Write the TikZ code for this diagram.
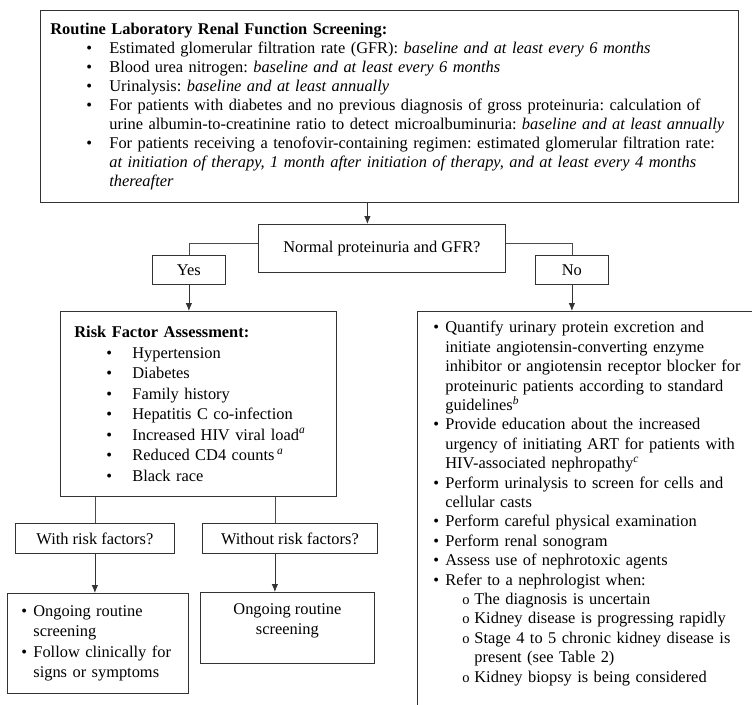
\documentclass[tikz,border=0pt]{standalone}
\usepackage{fontspec}
\setmainfont{Liberation Serif}
\usetikzlibrary{shapes,arrows,arrows.meta,positioning,calc}

\newcommand{\topbul}{\hspace*{36pt}\makebox[23pt][l]{\textbullet}}
\newcommand{\topind}{\hspace*{59pt}}
\newcommand{\riskbul}{\hspace*{32pt}\makebox[26pt][l]{\textbullet}}
\newcommand{\dotbul}{\makebox[12pt][l]{\textbullet}}
\newcommand{\dotind}{\hspace*{12pt}}
\newcommand{\circbul}{\hspace*{29pt}\makebox[12pt][l]{\fontsize{14.5}{14.5}\selectfont o}}
\newcommand{\circind}{\hspace*{41pt}}
\newcommand{\fnmark}[1]{\textsuperscript{\textit{#1}}}

\begin{document}
\frenchspacing
\begin{tikzpicture}[
    x=1pt, y=-1pt,
    font={\fontsize{16.4}{19}\selectfont},
    block/.style={rectangle, draw=black!80, line width=0.8pt, anchor=north west, align=left, inner ysep=0pt},
    choice/.style={rectangle, draw=black!80, line width=0.8pt, anchor=north west, inner sep=0pt, align=center},
    arrow/.style={-{Latex[length=8pt,width=6.5pt]},line width=0.8pt,draw=black!80},
    link/.style={line width=0.8pt,draw=black!70}
]
\useasboundingbox (0,0) rectangle (752,704);
\clip (0,0) rectangle (752,704);

% Screening box
\node[block, minimum width=698pt, minimum height=192pt, text width=678pt, inner xsep=10pt] (screen) at (40,10) {%
\textbf{Routine Laboratory Renal Function Screening:}\\
\topbul Estimated glomerular filtration rate (GFR): \textit{baseline and at least every 6 months}\\
\topbul Blood urea nitrogen: \textit{baseline and at least every 6 months}\\
\topbul Urinalysis: \textit{baseline and at least annually}\\
\topbul For patients with diabetes and no previous diagnosis of gross proteinuria: calculation of\\
\topind urine albumin-to-creatinine ratio to detect microalbuminuria: \textit{baseline and at least annually}\\
\topbul For patients receiving a tenofovir-containing regimen: estimated glomerular filtration rate:\\
\topind \textit{at initiation of therapy, 1 month after initiation of therapy, and at least every 4 months}\\
\topind \textit{thereafter}};

% Decision
\node[choice, minimum width=247pt, minimum height=48pt] (quest) at (258,224) {Normal proteinuria and GFR?};
\node[choice, minimum width=73pt, minimum height=29pt] (yes) at (152,255) {Yes};
\node[choice, minimum width=73pt, minimum height=29pt] (no) at (535,255) {No};

% Risk factors
\node[block, minimum width=276pt, minimum height=185pt, text width=248pt, inner xsep=14pt,
      font={\fontsize{16.4}{20.5}\selectfont}] (risk) at (60,311) {%
\textbf{Risk Factor Assessment:}\\
\riskbul Hypertension\\
\riskbul Diabetes\\
\riskbul Family history\\
\riskbul Hepatitis C co-infection\\
\riskbul Increased HIV viral load\fnmark{a}\\
\riskbul Reduced CD4 counts\,\fnmark{a}\\
\riskbul Black race};

% Abnormal results
\node[block, text width=344pt, inner xsep=16pt, inner ysep=10pt,
      font={\fontsize{16.4}{19.4}\selectfont}] (action) at (417,311) {%
\dotbul Quantify urinary protein excretion and\\
\dotind initiate angiotensin-converting enzyme\\
\dotind inhibitor or angiotensin receptor blocker for\\
\dotind proteinuric patients according to standard\\
\dotind guidelines\fnmark{b}\\
\dotbul Provide education about the increased\\
\dotind urgency of initiating ART for patients with\\
\dotind HIV-associated nephropathy\fnmark{c}\\
\dotbul Perform urinalysis to screen for cells and\\
\dotind cellular casts\\
\dotbul Perform careful physical examination\\
\dotbul Perform renal sonogram\\
\dotbul Assess use of nephrotoxic agents\\
\dotbul Refer to a nephrologist when:\\
\circbul The diagnosis is uncertain\\
\circbul Kidney disease is progressing rapidly\\
\circbul Stage 4 to 5 chronic kidney disease is\\
\circind present (see Table 2)\\
\circbul Kidney biopsy is being considered\rule[-30pt]{0pt}{0pt}};

% With / without risk factors
\node[choice, minimum width=159pt, minimum height=30pt] (with) at (15,523) {With risk factors?};
\node[choice, minimum width=175pt, minimum height=30pt] (without) at (202,523) {Without risk factors?};

\node[block, minimum width=181pt, minimum height=100pt, text width=161pt, inner xsep=10pt,
      font={\fontsize{16.4}{20.3}\selectfont}] (follow) at (7,593) {%
\hspace*{4pt}\dotbul Ongoing routine\\
\hspace*{4pt}\dotind screening\\
\hspace*{4pt}\dotbul Follow clinically for\\
\hspace*{4pt}\dotind signs or symptoms};
\node[choice, minimum width=174pt, minimum height=71pt, font={\fontsize{16.4}{20}\selectfont}] (routine) at (200,592) {Ongoing routine\\screening\rule[-17pt]{0pt}{0pt}};

% Connections
\draw[arrow] ([xshift=-14.5pt]quest.north |- screen.south) -- ([xshift=-14.5pt]quest.north);
\draw[link] ([yshift=5pt]quest.west) -| (yes.north);
\draw[link] ([yshift=5pt]quest.east) -| (no.north);
\draw[arrow] (yes.south) -- (yes.south |- risk.north);
\draw[arrow] (no.south) -- (no.south |- action.north);
\draw[link] (with.north |- risk.south) -- (with.north);
\draw[link] ([xshift=-15pt]without.north |- risk.south) -- ([xshift=-15pt]without.north);
\draw[arrow] (with.south) -- (with.south |- follow.north);
\draw[arrow] ([xshift=-15pt]without.south) -- ([xshift=-15pt]without.south |- routine.north);

\end{tikzpicture}
\end{document}
